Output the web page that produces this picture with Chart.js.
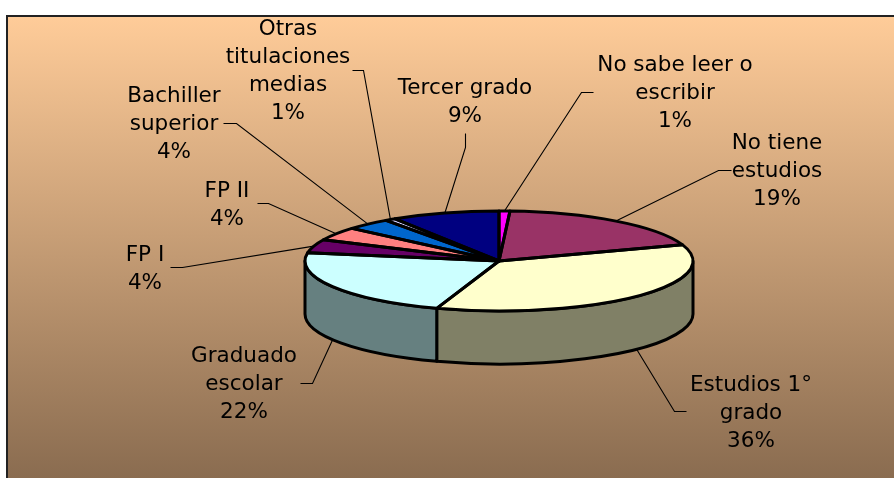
<!DOCTYPE html>
<html><head><meta charset="utf-8">
<style>html,body{margin:0;padding:0;background:#fff}canvas{display:block}</style>
<script src="https://cdn.jsdelivr.net/npm/chart.js@4/dist/chart.umd.js"></script>
</head><body>
<div style="width:894px;height:478px"><canvas id="c" width="894" height="478"></canvas></div>
<script>
const categories = ["No sabe leer o escribir","No tiene estudios","Estudios 1° grado","Graduado escolar","FP I","FP II","Bachiller superior","Otras titulaciones medias","Tercer grado"];
const seriesValues = [0.9,18.8,35.5,22.4,4.4,4.3,3.8,0.9,9.0];
const faceColors = ["#FF00FF","#993366","#FFFFCC","#CCFFFF","#660066","#FF8080","#0066CC","#CCCCFF","#000080"];
const sideColors = ["#800080","#4D1A33","#808066","#668080","#330033","#804040","#003366","#666680","#000040"];
const labelLines = [["No sabe leer o","escribir","1%"],["No tiene","estudios","19%"],["Estudios 1°","grado","36%"],["Graduado","escolar","22%"],["FP I","4%"],["FP II","4%"],["Bachiller","superior","4%"],["Otras","titulaciones","medias","1%"],["Tercer grado","9%"]];
const labelCenterX = [675,777,751,244,145,227,174,288,465];
const labelFirstY = [65,143,385,356,255,191,96,29,88];
// leader start near the text: [x0,y0,x1,y1]; x1,y1 is where the straight run to the slice begins
const leaderElbows = [[593,92,581,92],[731,170,718,170],[686,411,674,411],[300,383,312,383],[170,267,182,267],[257,203,268,203],[223,123,236,123],[352,70,363,70],[465,133,465,147]];
const FRAME = {x:6,y:15,w:888,h:463}, CX=499, CY=261, RX=194, RY=50, DEPTH=53, R=100;
const FONT = '21.5px "DejaVu Sans"', LH=28, EDGE=3;

function geom(chart){ return chart.getDatasetMeta(0).data.map(a=>a.getProps(['x','y','startAngle','endAngle','outerRadius'],true)); }
const piePlugin = {
  id:'pie3d',
  beforeDraw(chart){
    const c=chart.ctx, g=c.createLinearGradient(0,FRAME.y,0,FRAME.y+FRAME.h);
    g.addColorStop(0,'#FFCC99'); g.addColorStop(1,'#8A6C50');
    c.fillStyle=g; c.fillRect(FRAME.x,FRAME.y,FRAME.w,FRAME.h);
    c.strokeStyle='#222'; c.lineWidth=2;
    c.beginPath(); c.moveTo(FRAME.x+1,FRAME.y+FRAME.h); c.lineTo(FRAME.x+1,FRAME.y+1); c.lineTo(FRAME.x+FRAME.w,FRAME.y+1); c.stroke();
  },
  beforeDatasetsDraw(chart){
    const c=chart.ctx, el=geom(chart);
    c.save(); c.lineWidth=EDGE; c.strokeStyle='#000'; c.lineJoin='round';
    el.forEach((a,i)=>{
      const norm=t=>{const p=2*Math.PI; return ((t%p)+p)%p;};
      let s=norm(a.startAngle), e=s+(a.endAngle-a.startAngle);
      [[Math.max(s,0),Math.min(e,Math.PI)],[Math.max(s,2*Math.PI),Math.min(e,3*Math.PI)]].forEach(([p,q])=>{
        if(q<=p) return;
        c.beginPath();
        c.ellipse(a.x,a.y,RX,RY,0,p,q);
        c.lineTo(a.x+RX*Math.cos(q),a.y+RY*Math.sin(q)+DEPTH);
        c.ellipse(a.x,a.y+DEPTH,RX,RY,0,q,p,true);
        c.closePath();
        c.fillStyle=sideColors[i]; c.fill(); c.stroke();
      });
    });
    c.restore();
    c.save(); c.translate(CX,CY); c.scale(RX/R,RY/R); c.translate(-CX,-CY);
  },
  afterDatasetsDraw(chart){
    const c=chart.ctx; c.restore();
    const el=geom(chart);
    c.save(); c.lineWidth=EDGE; c.strokeStyle='#000'; c.lineJoin='round';
    el.forEach(a=>{
      c.beginPath(); c.moveTo(a.x,a.y);
      c.ellipse(a.x,a.y,RX,RY,0,a.startAngle,a.endAngle);
      c.closePath(); c.stroke();
    });
    c.restore();
    c.save(); c.strokeStyle='#000'; c.lineWidth=1.1; c.fillStyle='#000'; c.font=FONT; c.textAlign='center'; c.textBaseline='middle';
    el.forEach((a,i)=>{
      const m=(a.startAngle+a.endAngle)/2, sn=Math.sin(m);
      const px=a.x+RX*Math.cos(m), py=a.y+RY*sn+(sn>0?DEPTH:0);
      const [x0,y0,x1,y1]=leaderElbows[i];
      c.beginPath(); c.moveTo(x0+.5,y0+.5); c.lineTo(x1+.5,y1+.5); c.lineTo(px,py); c.stroke();
      labelLines[i].forEach((t,k)=>c.fillText(t,labelCenterX[i],labelFirstY[i]+k*LH));
    });
    c.restore();
  }
};
new Chart(document.getElementById('c'),{
  type:'pie',
  data:{labels:categories,datasets:[{data:seriesValues,backgroundColor:faceColors,borderWidth:0,clip:false}]},
  options:{responsive:false,animation:false,rotation:0,
    layout:{padding:{left:CX-R,right:894-CX-R,top:CY-R,bottom:478-CY-R}},
    plugins:{legend:{display:false},tooltip:{enabled:false},title:{display:false}}},
  plugins:[piePlugin]
});
</script>
</body></html>
